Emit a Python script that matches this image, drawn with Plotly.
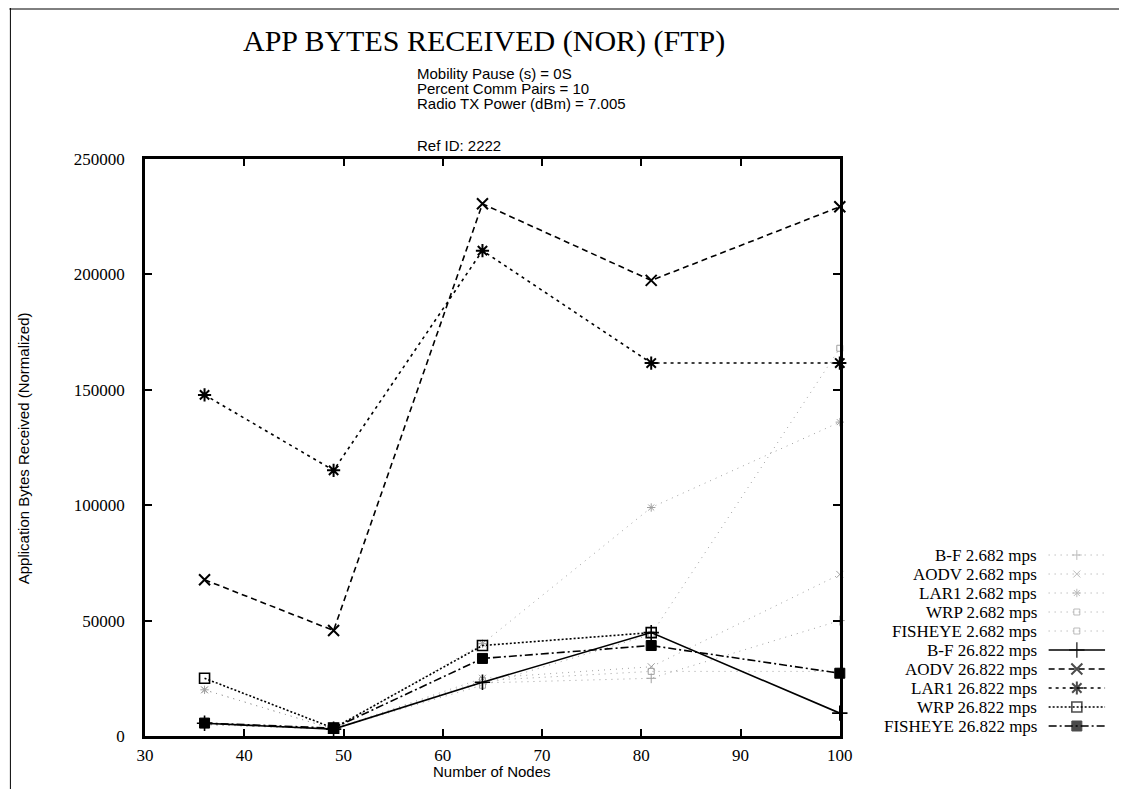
import plotly.graph_objects as go

# ---------------- data ----------------
nodes = [36, 49, 64, 81, 100]

bf_2682 = [5000, 3000, 23000, 25000, 50000]
aodv_2682 = [20000, 3000, 25000, 30000, 70000]
lar1_2682 = [20000, 3000, 40000, 99000, 136000]
wrp_2682 = [5000, 3000, 22000, 44000, 168000]
fisheye_2682 = [5000, 3000, 24000, 28000, 28000]

bf_26822 = [5500, 3000, 23300, 44800, 9900]
aodv_26822 = [67700, 45700, 230600, 197400, 229300]
lar1_26822 = [147800, 115100, 210300, 161600, 161600]
wrp_26822 = [25000, 3400, 39200, 44800, None]
fisheye_26822 = [5600, 3400, 33600, 39200, 27200]

series_names = [
    "B-F 2.682 mps", "AODV 2.682 mps", "LAR1 2.682 mps", "WRP 2.682 mps", "FISHEYE 2.682 mps",
    "B-F 26.822 mps", "AODV 26.822 mps", "LAR1 26.822 mps", "WRP 26.822 mps", "FISHEYE 26.822 mps",
]
series_values = [
    bf_2682, aodv_2682, lar1_2682, wrp_2682, fisheye_2682,
    bf_26822, aodv_26822, lar1_26822, wrp_26822, fisheye_26822,
]

x_ticks = [30, 40, 50, 60, 70, 80, 90, 100]
y_ticks = [0, 50000, 100000, 150000, 200000, 250000]

title_text = "APP BYTES RECEIVED (NOR) (FTP)"
subtitle_lines = ["Mobility Pause (s) = 0S", "Percent Comm Pairs = 10", "Radio TX Power (dBm) = 7.005"]
ref_text = "Ref ID: 2222"
x_title = "Number of Nodes"
y_title = "Application Bytes Received (Normalized)"

# ---------------- styles ----------------
FAINT = "#a0a0a0"
styles = [
    dict(color=FAINT, dash="1px,5px", width=1, symbol="cross-thin", size=7, lw=1),
    dict(color=FAINT, dash="1px,5px", width=1, symbol="x-thin", size=7, lw=1),
    dict(color=FAINT, dash="1px,5px", width=1, symbol="asterisk", size=7, lw=1),
    dict(color=FAINT, dash="1px,5px", width=1, symbol="square-open", size=6, lw=1),
    dict(color=FAINT, dash="1px,5px", width=1, symbol="square-open", size=6, lw=1),
    dict(color="black", dash="solid", width=1.6, symbol="cross-thin", size=11, lw=1.6),
    dict(color="black", dash="6px,4px", width=1.6, symbol="x-thin", size=11, lw=2),
    dict(color="black", dash="3px,4px", width=1.6, symbol="asterisk", size=11, lw=2),
    dict(color="black", dash="2px,2px", width=1.6, symbol="square-open", size=10, lw=1.6),
    dict(color="black", dash="8px,3px,2px,3px", width=1.6, symbol="square", size=10, lw=1),
]

W, H = 1127, 789
L, R, T, B = 137, 15, 151, 61
PW = W - L - R
PH = H - T - B
PLOT_RIGHT = 839


def px_x(px):
    return (px - L) / PW


def px_y(py):
    return (H - B - py) / PH


fig = go.Figure()

for name, vals, st in zip(series_names, series_values, styles):
    fig.add_trace(go.Scatter(
        x=nodes, y=vals, mode="lines+markers", name=name,
        line=dict(color=st["color"], dash=st["dash"], width=st["width"]),
        marker=dict(symbol=st["symbol"], size=st["size"], color=st["color"],
                    line=dict(color=st["color"], width=st["lw"])),
        connectgaps=False, showlegend=False, cliponaxis=False,
        xaxis="x", yaxis="y",
    ))

# ---------------- custom legend (gnuplot style: text left, sample right) ----------------
leg_top = 547
leg_gap = 19
sample_x0, sample_x1 = 1050, 1107
text_right = 1040
for i, (name, st) in enumerate(zip(series_names, styles)):
    yy = leg_top + i * leg_gap
    xm = (sample_x0 + sample_x1) / 2
    fig.add_trace(go.Scatter(
        x=[sample_x0, xm, sample_x1], y=[yy, yy, yy], mode="lines+markers",
        line=dict(color=st["color"], dash=st["dash"], width=st["width"]),
        marker=dict(symbol=st["symbol"], size=[0, st["size"], 0], color=st["color"],
                    line=dict(color=st["color"], width=st["lw"])),
        showlegend=False, hoverinfo="skip", cliponaxis=False,
        xaxis="x2", yaxis="y2",
    ))
    fig.add_annotation(x=text_right, y=yy, xref="x2", yref="y2", text=name,
                       showarrow=False, xanchor="right", yanchor="middle",
                       font=dict(family="Liberation Serif", size=17, color="black"))

serif = dict(family="Liberation Serif", size=17, color="black")
sans = dict(family="Liberation Sans", size=15, color="black")

fig.update_layout(
    width=W, height=H,
    margin=dict(l=L, r=R, t=T, b=B),
    paper_bgcolor="white", plot_bgcolor="rgba(0,0,0,0)",
    showlegend=False,
    xaxis=dict(
        domain=[0, px_x(PLOT_RIGHT)], range=[30, 100], tickvals=x_ticks,
        ticks="inside", ticklen=7, tickwidth=2, tickcolor="black",
        showline=True, linewidth=2.5, linecolor="black", mirror="ticks",
        showgrid=False, zeroline=False, tickfont=serif, ticklabelstandoff=2,
    ),
    yaxis=dict(
        domain=[0, 1], range=[0, 250000], tickvals=y_ticks, tickformat="d",
        ticks="inside", ticklen=7, tickwidth=2, tickcolor="black",
        showline=True, linewidth=2.5, linecolor="black", mirror="ticks",
        showgrid=False, zeroline=False, tickfont=serif, ticklabelstandoff=14,
    ),
    xaxis2=dict(domain=[px_x(PLOT_RIGHT), 1], range=[PLOT_RIGHT, W - R], visible=False,
                anchor="y2", fixedrange=True),
    yaxis2=dict(domain=[0, 1], range=[H - B, T], visible=False, anchor="x2", fixedrange=True),
)

# titles and text
fig.add_annotation(x=px_x(480), y=px_y(33), xref="paper", yref="paper", text=title_text,
                   showarrow=False, xanchor="center", yanchor="middle",
                   font=dict(family="Liberation Serif", size=30, color="black"))
for i, line in enumerate(subtitle_lines):
    fig.add_annotation(x=px_x(410), y=px_y(66 + i * 15), xref="paper", yref="paper", text=line,
                       showarrow=False, xanchor="left", yanchor="middle", font=sans)
fig.add_annotation(x=px_x(410), y=px_y(138), xref="paper", yref="paper", text=ref_text,
                   showarrow=False, xanchor="left", yanchor="middle", font=sans)
fig.add_annotation(x=px_x(488), y=px_y(763), xref="paper", yref="paper", text=x_title,
                   showarrow=False, xanchor="center", yanchor="middle", font=sans)
fig.add_annotation(x=px_x(14), y=px_y(440), xref="paper", yref="paper", text=y_title,
                   showarrow=False, xanchor="center", yanchor="middle", textangle=-90, font=sans)

# page frame remnants (scanned page edges)
fig.add_shape(type="line", xref="paper", yref="paper", x0=px_x(1), x1=px_x(1), y0=px_y(0), y1=px_y(H),
              line=dict(color="black", width=1))
fig.add_shape(type="line", xref="paper", yref="paper", x0=px_x(0), x1=px_x(W), y0=px_y(1), y1=px_y(1),
              line=dict(color="black", width=1))

fig.write_html("out.html")
